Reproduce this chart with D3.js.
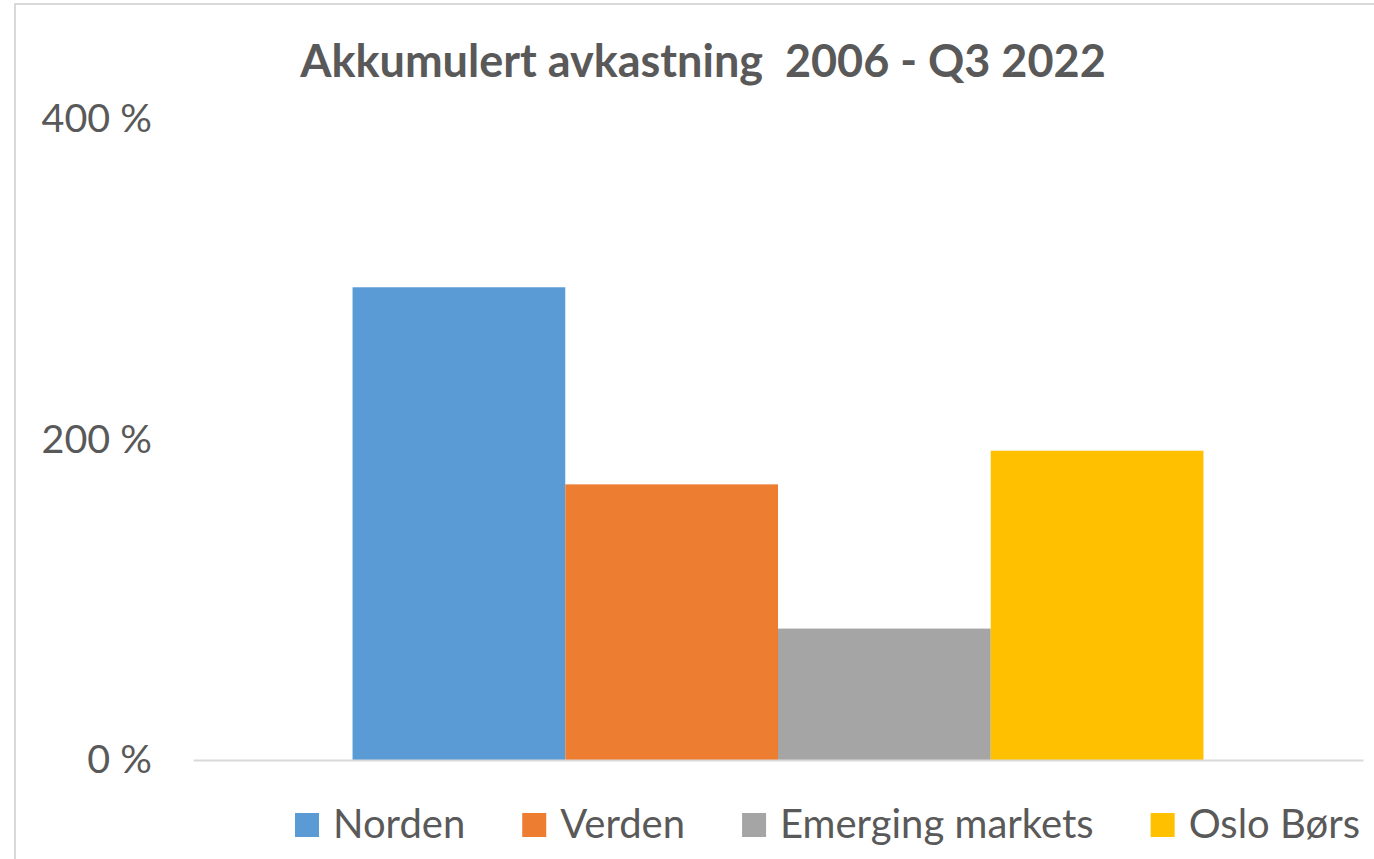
<!DOCTYPE html>
<html>
<head>
<meta charset="utf-8">
<script src="https://cdn.jsdelivr.net/npm/d3@7"></script>
<style>
  html, body { margin: 0; padding: 0; background: #fff; }
  svg { display: block; font-family: Lato, "Open Sans", sans-serif; }
</style>
</head>
<body>
<div class="canvas"></div>
<script>
// chart size
const width = 1374;
const height = 859;

// data
const title = "Akkumulert avkastning  2006 - Q3 2022";
const series = ["Norden", "Verden", "Emerging markets", "Oslo Børs"];
const values = [295, 172, 82, 193];
const colors = ["#5B9BD5", "#ED7D31", "#A5A5A5", "#FFC000"];
const yTicks = [0, 200, 400];

// plot area
const plotLeft = 193, plotRight = 1363;
const yZero = 760, yTop = 119;

const svg = d3.select(".canvas").append("svg")
  .attr("width", width)
  .attr("height", height);

// chart border (only left and top are visible in the crop)
svg.append("rect")
  .attr("x", 15).attr("y", 4)
  .attr("width", width + 20).attr("height", height + 20)
  .attr("fill", "#fff")
  .attr("stroke", "#d9d9d9")
  .attr("stroke-width", 2);

// scales
const x = d3.scaleBand()
  .domain(series)
  .range([plotLeft, plotRight])
  .paddingInner(0)
  .paddingOuter(0.75);

const y = d3.scaleLinear()
  .domain([0, 400])
  .range([yZero, yTop]);

const color = d3.scaleOrdinal(series, colors);

// title
svg.append("text")
  .attr("x", 703).attr("y", 77)
  .attr("text-anchor", "middle")
  .attr("fill", "#595959")
  .attr("font-weight", "bold")
  .attr("font-size", 45)
  .style("white-space", "pre")
  .text(title);

// bars
svg.selectAll("rect.bar")
  .data(series)
  .join("rect")
    .attr("class", "bar")
    .attr("x", d => x(d))
    .attr("width", x.bandwidth())
    .attr("y", (d, i) => y(values[i]))
    .attr("height", (d, i) => y(0) - y(values[i]))
    .attr("fill", d => color(d));

// y axis (labels only)
const yAxis = d3.axisLeft(y)
  .tickValues(yTicks)
  .tickSize(0)
  .tickPadding(0)
  .tickFormat(d => d + " %");

const gy = svg.append("g")
  .attr("transform", "translate(152,0)")
  .call(yAxis);
gy.select(".domain").remove();
gy.selectAll("text")
  .attr("font-family", "Lato, 'Open Sans', sans-serif")
  .attr("font-size", 39.5)
  .attr("fill", "#595959");

// category axis line
const xAxis = d3.axisBottom(d3.scaleLinear().range([plotLeft, plotRight]))
  .ticks(0).tickSize(0);
const gx = svg.append("g")
  .attr("transform", `translate(0,${yZero})`)
  .call(xAxis);
gx.select(".domain")
  .attr("stroke", "#d9d9d9")
  .attr("stroke-width", 2);
gx.selectAll(".tick").remove();

// legend
const legend = svg.append("g").attr("class", "legend");
let lx = 295;
series.forEach((s, i) => {
  const item = legend.append("g").attr("transform", `translate(${lx},0)`);
  item.append("rect")
    .attr("x", 0).attr("y", 813)
    .attr("width", 24).attr("height", 24)
    .attr("fill", color(s));
  const t = item.append("text")
    .attr("x", 38).attr("y", 838)
    .attr("font-size", 40)
    .attr("fill", "#595959")
    .text(s);
  lx += 38 + t.node().getComputedTextLength() + 57;
});
</script>
</body>
</html>
